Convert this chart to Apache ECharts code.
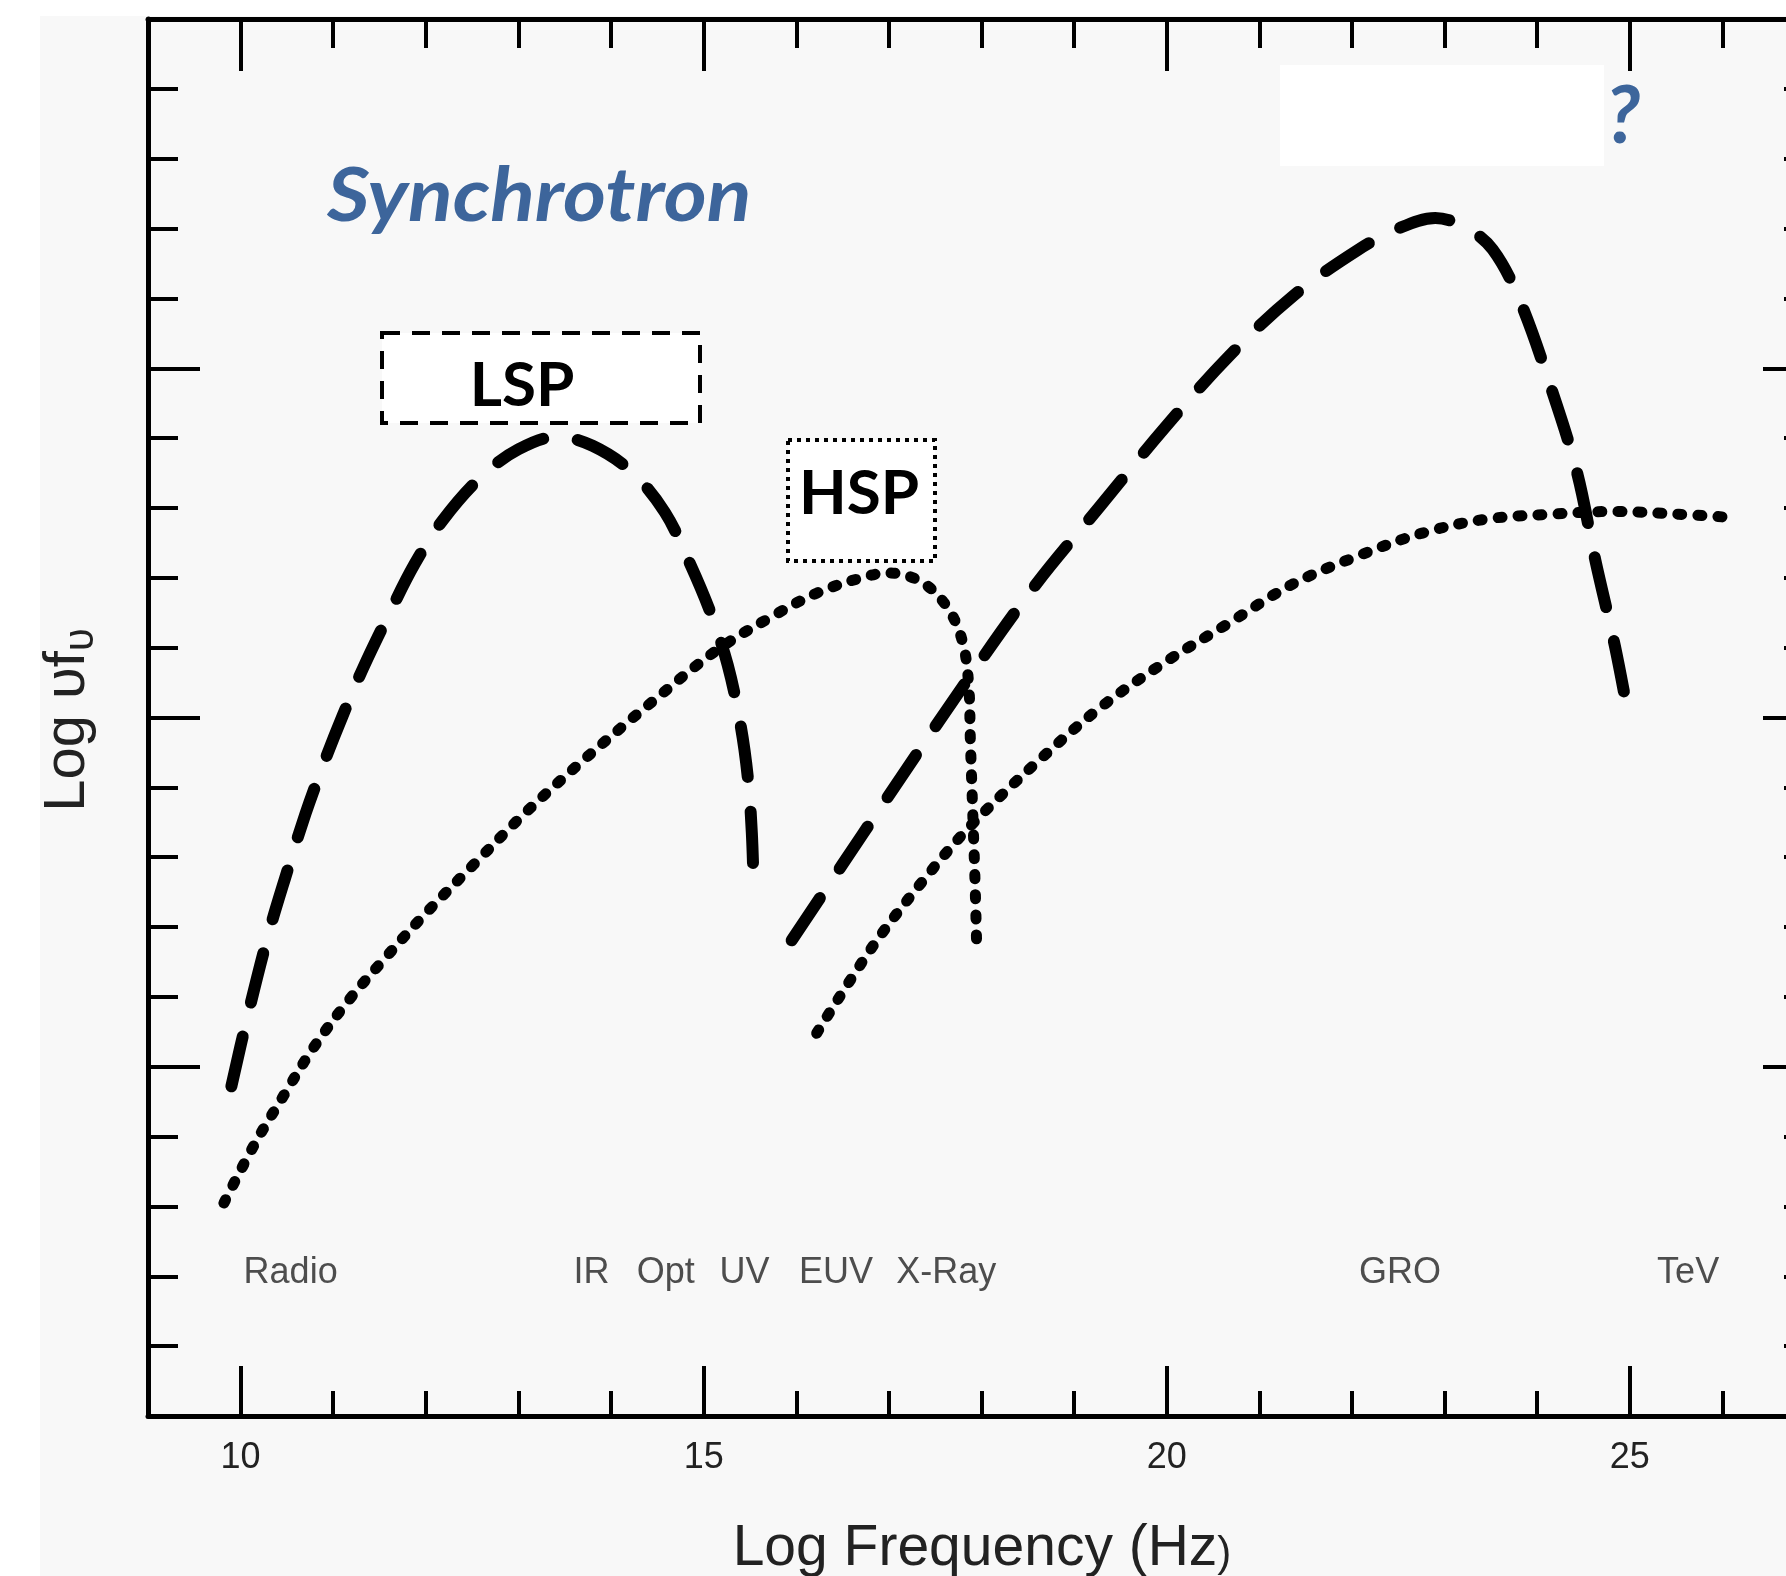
<!DOCTYPE html>
<html>
<head>
<meta charset="utf-8">
<script src="https://cdn.jsdelivr.net/npm/echarts@6/dist/echarts.min.js"></script>
<style>
  html, body { margin: 0; padding: 0; background: #ffffff; }
  #chart { width: 1786px; height: 1576px; }
</style>
</head>
<body>
<div id="chart"></div>
<script>
// Blazar SED bumps: log frequency (Hz) vs log(nu F_nu), arbitrary units
const lspSyncFreq = [9.90, 10.06, 10.29, 10.48, 10.70, 10.90, 11.10, 11.32, 11.61, 11.88, 12.18, 12.60, 13.00, 13.42, 13.80, 14.22, 14.58, 14.85, 15.08, 15.26, 15.40, 15.48, 15.52, 15.54];
const lspSyncFlux = [4.72, 5.64, 6.85, 7.70, 8.62, 9.35, 10.02, 10.70, 11.50, 12.20, 12.82, 13.45, 13.84, 14.02, 13.89, 13.52, 12.94, 12.21, 11.48, 10.75, 9.88, 9.10, 8.35, 7.57];

const lspIcFreq = [15.95, 16.50, 16.93, 17.89, 18.59, 19.29, 19.98, 20.67, 21.36, 22.06, 22.50, 22.90, 23.25, 23.52, 23.80, 24.15, 24.43, 24.63, 24.84, 24.98];
const lspIcFlux = [6.81, 7.90, 8.75, 10.62, 11.91, 13.04, 14.15, 15.17, 16.03, 16.69, 17.00, 17.15, 17.00, 16.70, 16.01, 14.72, 13.51, 12.24, 11.02, 10.06];

const hspSyncFreq = [9.82, 10.15, 10.48, 10.79, 11.16, 11.53, 11.98, 12.52, 13.07, 13.71, 14.44, 15.16, 15.81, 16.22, 16.65, 16.99, 17.34, 17.62, 17.79, 17.86, 17.88, 17.91, 17.93, 17.95];
const hspSyncFlux = [3.05, 3.89, 4.62, 5.28, 5.94, 6.51, 7.17, 7.90, 8.63, 9.40, 10.22, 10.98, 11.50, 11.78, 11.98, 12.07, 11.95, 11.60, 11.11, 10.50, 9.66, 8.46, 7.66, 6.61];

const hspIcFreq = [16.22, 16.85, 17.41, 17.89, 18.59, 19.29, 19.98, 20.67, 21.36, 22.06, 22.76, 23.45, 24.15, 24.84, 25.53, 26.02];
const hspIcFlux = [5.48, 6.77, 7.73, 8.46, 9.35, 10.15, 10.79, 11.35, 11.91, 12.31, 12.64, 12.84, 12.91, 12.95, 12.91, 12.87];

// observing bands along the frequency axis
const bandNames = ['Radio', 'IR', 'Opt', 'UV', 'EUV', 'X-Ray', 'GRO', 'TeV'];
const bandFreqs = [10.54, 13.79, 14.59, 15.44, 16.43, 17.62, 22.52, 25.63];
const bandLevel = 2.05;

// tick positions
const xMinorTicks = [10, 11, 12, 13, 14, 15, 16, 17, 18, 19, 20, 21, 22, 23, 24, 25, 26];
const xMajorTicks = [10, 15, 20, 25];
const yMinorTicks = [1, 2, 3, 4, 5, 6, 7, 8, 9, 10, 11, 12, 13, 14, 15, 16, 17, 18, 19];
const yMajorTicks = [5, 10, 15];

const X_MIN = 9, X_MAX = 27, Y_MIN = 0, Y_MAX = 20;

function pairs(xs, ys) { return xs.map((x, i) => [x, ys[i]]); }

const INK = '#000000';
const TEXT = '#222222';
const LABEL_FONT = '"Liberation Sans", Arial, sans-serif';
const TAG_FONT = 'Lato, "Open Sans", sans-serif';

function xAxisDef(position, ticks, len, withLine, withLabels) {
  return {
    type: 'value', min: X_MIN, max: X_MAX, position: position,
    axisLine: { show: withLine, onZero: false, lineStyle: { color: INK, width: 5 } },
    axisTick: { show: true, inside: true, length: len, customValues: ticks, lineStyle: { color: INK, width: 4 } },
    axisLabel: withLabels ? {
      show: true, customValues: xMajorTicks, margin: 24, fontSize: 36,
      fontFamily: LABEL_FONT, color: TEXT
    } : { show: false },
    splitLine: { show: false }
  };
}

function yAxisDef(position, ticks, len, withLine) {
  return {
    type: 'value', min: Y_MIN, max: Y_MAX, position: position,
    axisLine: { show: withLine, onZero: false, lineStyle: { color: INK, width: 5 } },
    axisTick: { show: true, inside: true, length: len, customValues: ticks, lineStyle: { color: INK, width: 4 } },
    axisLabel: { show: false },
    splitLine: { show: false }
  };
}

const dashedStyle = { color: INK, width: 12, type: [51, 35], cap: 'round', join: 'round' };
const dottedStyle = { color: INK, width: 11, type: [4, 16], cap: 'round', join: 'round' };

function curve(name, xs, ys, style) {
  return {
    name: name, type: 'line', xAxisIndex: 0, yAxisIndex: 0,
    data: pairs(xs, ys), smooth: 0.35, showSymbol: false, symbol: 'none',
    lineStyle: style, silent: true, z: 3, clip: false
  };
}

const chart = echarts.init(document.getElementById('chart'), null, { renderer: 'canvas' });

chart.setOption({
  backgroundColor: '#ffffff',
  animation: false,
  grid: { left: 148, top: 19, width: 1667, height: 1397, containLabel: false, outerBoundsMode: 'none' },
  xAxis: [
    xAxisDef('bottom', xMinorTicks, 25, true, false),
    xAxisDef('bottom', xMajorTicks, 50, false, true),
    xAxisDef('top', xMinorTicks, 29, true, false),
    xAxisDef('top', xMajorTicks, 52, false, false)
  ],
  yAxis: [
    yAxisDef('left', yMinorTicks, 30, true),
    yAxisDef('left', yMajorTicks, 52, false),
    yAxisDef('right', yMinorTicks, 31, true),
    yAxisDef('right', yMajorTicks, 52, false)
  ],
  series: [
    curve('LSP synchrotron', lspSyncFreq, lspSyncFlux, dashedStyle),
    curve('LSP inverse Compton', lspIcFreq, lspIcFlux, dashedStyle),
    curve('HSP synchrotron', hspSyncFreq, hspSyncFlux, dottedStyle),
    curve('HSP inverse Compton', hspIcFreq, hspIcFlux, dottedStyle),
    {
      name: 'bands', type: 'scatter', xAxisIndex: 0, yAxisIndex: 0,
      symbolSize: 0, silent: true,
      data: bandNames.map((n, i) => ({ name: n, value: [bandFreqs[i], bandLevel] })),
      label: {
        show: true, position: 'inside', formatter: '{b}',
        fontSize: 36, fontFamily: LABEL_FONT, color: TEXT
      }
    }
  ],
  graphic: [
    // light panel behind the plot
    { type: 'rect', z: -100, silent: true,
      shape: { x: 40, y: 16, width: 1746, height: 1560 },
      style: { fill: '#f8f8f8' } },
    { type: 'rect', z: -50, silent: true,
      shape: { x: 1280, y: 65, width: 324, height: 101 },
      style: { fill: '#ffffff' } },
    { type: 'text', z: 10, silent: true, x: 327, y: 197, scaleX: 1.1,
      style: { text: 'Synchrotron', fill: '#3d659b', font: 'italic bold 75px ' + TAG_FONT,
               align: 'left', verticalAlign: 'middle' } },
    { type: 'text', z: 10, silent: true, x: 1623, y: 117,
      style: { text: '?', fill: '#3d659b', font: 'italic bold 80px ' + TAG_FONT,
               align: 'center', verticalAlign: 'middle' } },
    // LSP tag
    { type: 'rect', z: 10, silent: true,
      shape: { x: 382, y: 333, width: 318, height: 90 },
      style: { fill: '#ffffff', stroke: INK, lineWidth: 4, lineDash: [18, 12] } },
    { type: 'text', z: 11, silent: true, x: 522, y: 386,
      style: { text: 'LSP', fill: INK, font: 'bold 62px ' + TAG_FONT,
               align: 'center', verticalAlign: 'middle' } },
    // HSP tag
    { type: 'rect', z: 10, silent: true,
      shape: { x: 788, y: 440, width: 147, height: 121 },
      style: { fill: '#ffffff', stroke: INK, lineWidth: 4, lineDash: [4, 5] } },
    { type: 'text', z: 11, silent: true, x: 859, y: 494,
      style: { text: 'HSP', fill: INK, font: 'bold 62px ' + TAG_FONT,
               align: 'center', verticalAlign: 'middle' } },
    // axis titles
    { type: 'text', z: 10, silent: true, x: 68, y: 720, rotation: Math.PI / 2,
      style: {
        text: '{a|Log υf}{b|υ}', align: 'center', verticalAlign: 'middle', fill: TEXT,
        rich: {
          a: { fontSize: 58, fontFamily: LABEL_FONT, fill: TEXT },
          b: { fontSize: 42, fontFamily: LABEL_FONT, fill: TEXT, padding: [26, 0, 0, 0] }
        }
      } },
    { type: 'text', z: 10, silent: true, x: 982, y: 1549,
      style: {
        text: '{a|Log Frequency (Hz}{b|)}', align: 'center', verticalAlign: 'middle', fill: TEXT,
        rich: {
          a: { fontSize: 57, fontFamily: LABEL_FONT, fill: TEXT },
          b: { fontSize: 42, fontFamily: LABEL_FONT, fill: TEXT, padding: [10, 0, 0, 0] }
        }
      } }
  ]
});
</script>
</body>
</html>
